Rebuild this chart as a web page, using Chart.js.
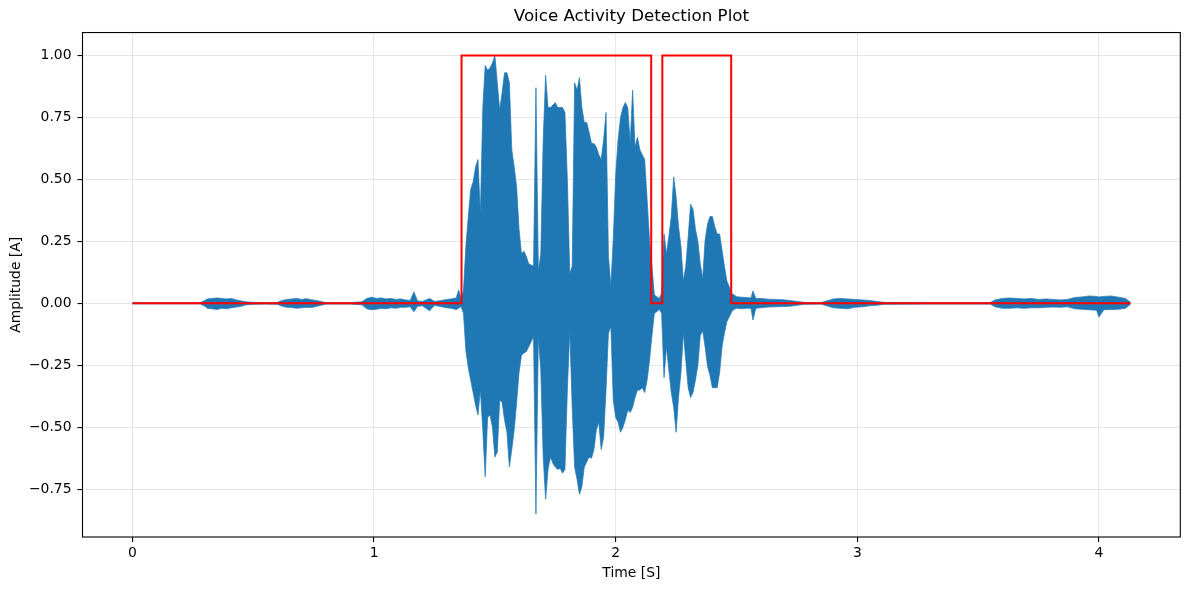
<!DOCTYPE html>
<html>
<head>
<meta charset="utf-8">
<script src="https://cdn.jsdelivr.net/npm/chart.js@4.4.1/dist/chart.umd.min.js"></script>
<style>
html,body{margin:0;padding:0;background:#fff;}
canvas{display:block;}
</style>
</head>
<body>
<canvas id="c" width="1189" height="590" style="width:1189px;height:590px"></canvas>
<script>
// ---- Waveform envelope, time in seconds, amplitude in A ----
const preTime = [0.00, 0.28, 0.30, 0.31, 0.33, 0.35, 0.37, 0.39, 0.41, 0.43,
                 0.45, 0.47, 0.50, 0.55, 0.60, 0.62, 0.64, 0.66, 0.68, 0.70,
                 0.72, 0.74, 0.76, 0.78, 0.80, 0.90, 0.95, 0.97, 0.99, 1.01,
                 1.03, 1.05, 1.07, 1.09, 1.11, 1.13, 1.15, 1.165, 1.18, 1.20,
                 1.23, 1.25, 1.28, 1.30, 1.32, 1.34, 1.35];
const preUpper = [0.002, 0.002, 0.012, 0.018, 0.02, 0.022, 0.02, 0.018, 0.02, 0.014,
                  0.01, 0.006, 0.004, 0.003, 0.004, 0.012, 0.016, 0.018, 0.02, 0.016,
                  0.019, 0.015, 0.012, 0.008, 0.003, 0.003, 0.006, 0.02, 0.025, 0.02,
                  0.022, 0.018, 0.02, 0.016, 0.018, 0.014, 0.012, 0.046, 0.01, 0.008,
                  0.02, 0.008, 0.012, 0.016, 0.018, 0.022, 0.054];
const preLower = [-0.002, -0.002, -0.012, -0.02, -0.022, -0.025, -0.02, -0.022, -0.018, -0.015,
                  -0.012, -0.006, -0.004, -0.003, -0.004, -0.012, -0.016, -0.017, -0.02, -0.018,
                  -0.016, -0.017, -0.013, -0.008, -0.003, -0.003, -0.006, -0.022, -0.026, -0.024,
                  -0.02, -0.022, -0.018, -0.02, -0.016, -0.016, -0.014, -0.034, -0.012, -0.01,
                  -0.03, -0.008, -0.014, -0.018, -0.02, -0.025, -0.02];

const speechTime = [1.36, 1.37, 1.38, 1.39, 1.40, 1.41, 1.42, 1.43, 1.44, 1.45,
                    1.46, 1.47, 1.48, 1.49, 1.50, 1.51, 1.52, 1.53, 1.54, 1.55,
                    1.56, 1.57, 1.58, 1.59, 1.60, 1.61, 1.62, 1.63, 1.64, 1.65,
                    1.66, 1.67, 1.68, 1.69, 1.70, 1.71, 1.72, 1.73, 1.74, 1.75,
                    1.76, 1.77, 1.78, 1.79, 1.80, 1.81, 1.82, 1.83, 1.84, 1.85,
                    1.86, 1.87, 1.88, 1.89, 1.90, 1.91, 1.92, 1.93, 1.94, 1.95,
                    1.96, 1.97, 1.98, 1.99, 2.00, 2.01, 2.02, 2.03, 2.04, 2.05,
                    2.06, 2.07, 2.08, 2.09, 2.10, 2.11, 2.12, 2.13, 2.14, 2.15,
                    2.16, 2.17, 2.18, 2.19, 2.20, 2.21, 2.22, 2.23, 2.24, 2.25,
                    2.26, 2.27, 2.28, 2.29, 2.30, 2.31, 2.32, 2.33, 2.34, 2.35,
                    2.36, 2.37, 2.38, 2.39, 2.40, 2.41, 2.42, 2.43, 2.44, 2.45,
                    2.46, 2.47, 2.48, 2.49, 2.50];
const speechUpper = [0.02, 0.05, 0.23, 0.35, 0.46, 0.49, 0.55, 0.58, 0.36, 0.79,
                     0.96, 0.94, 0.95, 0.97, 1.00, 0.89, 0.78, 0.85, 0.93, 0.93,
                     0.89, 0.62, 0.55, 0.47, 0.30, 0.20, 0.21, 0.19, 0.16, 0.155,
                     0.15, 0.87, 0.13, 0.20, 0.66, 0.92, 0.79, 0.79, 0.80, 0.81,
                     0.79, 0.79, 0.79, 0.77, 0.50, 0.12, 0.15, 0.89, 0.86, 0.91,
                     0.79, 0.73, 0.73, 0.69, 0.645, 0.645, 0.63, 0.60, 0.58, 0.66,
                     0.77, 0.19, 0.07, 0.26, 0.52, 0.66, 0.75, 0.79, 0.81, 0.79,
                     0.645, 0.86, 0.63, 0.67, 0.62, 0.60, 0.58, 0.42, 0.255, 0.15,
                     0.034, 0.027, 0.02, 0.04, 0.28, 0.20, 0.27, 0.35, 0.51, 0.43,
                     0.31, 0.23, 0.09, 0.15, 0.27, 0.40, 0.38, 0.30, 0.25, 0.16,
                     0.10, 0.255, 0.32, 0.35, 0.35, 0.31, 0.28, 0.28, 0.215, 0.15,
                     0.09, 0.067, 0.04, 0.034, 0.027];
const speechLower = [-0.013, -0.04, -0.19, -0.26, -0.31, -0.36, -0.41, -0.45, -0.35, -0.51,
                     -0.70, -0.46, -0.45, -0.50, -0.62, -0.60, -0.39, -0.40, -0.47, -0.52,
                     -0.66, -0.59, -0.51, -0.40, -0.28, -0.21, -0.20, -0.195, -0.175, -0.155,
                     -0.135, -0.85, -0.135, -0.27, -0.62, -0.79, -0.67, -0.62, -0.645, -0.66,
                     -0.67, -0.665, -0.685, -0.67, -0.35, -0.11, -0.42, -0.66, -0.71, -0.77,
                     -0.74, -0.66, -0.64, -0.62, -0.625, -0.59, -0.51, -0.48, -0.59, -0.54,
                     -0.35, -0.12, -0.094, -0.39, -0.46, -0.48, -0.52, -0.50, -0.47, -0.43,
                     -0.44, -0.42, -0.38, -0.35, -0.35, -0.34, -0.36, -0.31, -0.23, -0.13,
                     -0.04, -0.034, -0.024, -0.04, -0.30, -0.175, -0.27, -0.36, -0.42, -0.52,
                     -0.38, -0.28, -0.12, -0.23, -0.34, -0.38, -0.36, -0.31, -0.25, -0.13,
                     -0.11, -0.175, -0.255, -0.29, -0.34, -0.34, -0.34, -0.28, -0.175, -0.12,
                     -0.074, -0.054, -0.034, -0.024, -0.02];

const postTime = [2.52, 2.54, 2.56, 2.568, 2.58, 2.60, 2.63, 2.66, 2.69, 2.72,
                  2.75, 2.78, 2.85, 2.88, 2.90, 2.93, 2.96, 2.99, 3.02, 3.05,
                  3.08, 3.11, 3.30, 3.55, 3.57, 3.60, 3.63, 3.66, 3.69, 3.72,
                  3.75, 3.78, 3.81, 3.84, 3.87, 3.90, 3.93, 3.96, 3.99, 4.00,
                  4.02, 4.05, 4.08, 4.11, 4.13];
const postUpper = [0.025, 0.024, 0.022, 0.05, 0.02, 0.02, 0.017, 0.016, 0.015, 0.012,
                   0.008, 0.004, 0.003, 0.012, 0.018, 0.02, 0.018, 0.016, 0.014, 0.012,
                   0.008, 0.004, 0.003, 0.003, 0.014, 0.02, 0.022, 0.02, 0.018, 0.02,
                   0.016, 0.018, 0.016, 0.014, 0.016, 0.024, 0.026, 0.03, 0.028, 0.026,
                   0.028, 0.03, 0.025, 0.02, 0.004];
const postLower = [-0.022, -0.02, -0.02, -0.067, -0.02, -0.018, -0.015, -0.014, -0.013, -0.012,
                   -0.008, -0.004, -0.003, -0.012, -0.018, -0.02, -0.022, -0.016, -0.014, -0.01,
                   -0.008, -0.004, -0.003, -0.003, -0.014, -0.02, -0.02, -0.018, -0.02, -0.018,
                   -0.018, -0.016, -0.015, -0.016, -0.014, -0.022, -0.024, -0.026, -0.028, -0.055,
                   -0.026, -0.025, -0.024, -0.02, -0.004];

// ---- Voice activity detection (0/1) ----
const vadTime  = [0, 1.362, 1.362, 2.147, 2.147, 2.193, 2.193, 2.478, 2.478, 4.131];
const vadValue = [0, 0,     1,     1,     0,     0,     1,     1,     0,     0];

// ---- Ticks ----
const xTicks = [0, 1, 2, 3, 4];
const yTicks = [-0.75, -0.5, -0.25, 0, 0.25, 0.5, 0.75, 1.0];

// ---- Build point lists ----
const envTime  = preTime.concat(speechTime, postTime);
const envUpper = preUpper.concat(speechUpper, postUpper);
const envLower = preLower.concat(speechLower, postLower);
const nEnv = Math.min(envTime.length, envUpper.length, envLower.length);
const upperPts = [], lowerPts = [];
for (let i = 0; i < nEnv; i++) {
  upperPts.push({x: envTime[i], y: envUpper[i]});
  lowerPts.push({x: envTime[i], y: envLower[i]});
}
const vadPts = vadTime.map((t, i) => ({x: t, y: vadValue[i]}));

const FONT = "'DejaVu Sans', 'Liberation Sans', sans-serif";
const BLUE = '#1f77b4';
const GRID = 'rgba(176,176,176,0.3)';

const framePlugin = {
  id: 'frame',
  afterDatasetsDraw(chart) {
    const {ctx, chartArea: a} = chart;
    ctx.save();
    ctx.strokeStyle = '#000';
    ctx.lineWidth = 1.1;
    ctx.strokeRect(a.left, a.top, a.right - a.left, a.bottom - a.top);
    ctx.restore();
  }
};

const fmtY = v => Number(v).toFixed(2).replace('-', '\u2212');

new Chart(document.getElementById('c').getContext('2d'), {
  type: 'line',
  data: {
    datasets: [
      {label: 'VAD', data: vadPts, borderColor: '#ff0000', borderWidth: 2, pointRadius: 0, fill: false, tension: 0, order: 0},
      {label: 'upper', data: upperPts, borderColor: BLUE, borderWidth: 0.7, pointRadius: 0, fill: false, tension: 0, order: 1},
      {label: 'lower', data: lowerPts, borderColor: BLUE, borderWidth: 0.7, backgroundColor: BLUE, pointRadius: 0, fill: '-1', tension: 0, order: 1}
    ]
  },
  options: {
    responsive: false,
    animation: false,
    events: [],
    layout: {padding: {left: 0, right: 8.7, top: 0, bottom: 0}},
    plugins: {
      legend: {display: false},
      tooltip: {enabled: false},
      title: {
        display: true, fullSize: false,
        text: 'Voice Activity Detection Plot',
        color: '#000',
        font: {family: FONT, size: 16.7, weight: 'normal'},
        padding: {top: 7, bottom: 5.5}
      }
    },
    scales: {
      x: {
        type: 'linear', min: -0.2065, max: 4.3365,
        afterBuildTicks(s) { s.ticks = xTicks.map(v => ({value: v})); },
        afterFit(s) { s.height = 53; },
        ticks: {color: '#000', font: {family: FONT, size: 13.9}, padding: 3, maxRotation: 0, autoSkip: false, callback: v => String(v)},
        grid: {color: GRID, lineWidth: 1.1, tickColor: '#000', tickLength: 5, drawTicks: true},
        border: {display: false},
        title: {display: true, text: 'Time [S]', color: '#000', font: {family: FONT, size: 13.9}, padding: {top: 0, bottom: 8.7}}
      },
      y: {
        type: 'linear', min: -0.9425, max: 1.0925,
        afterBuildTicks(s) { s.ticks = yTicks.map(v => ({value: v})); },
        afterFit(s) { s.width = 82.5; },
        ticks: {color: '#000', font: {family: FONT, size: 13.9}, padding: 6, autoSkip: false, callback: v => fmtY(v)},
        grid: {color: GRID, lineWidth: 1.1, tickColor: '#000', tickLength: 5, drawTicks: true},
        border: {display: false},
        title: {display: true, text: 'Amplitude [A]', color: '#000', font: {family: FONT, size: 13.9}, padding: {top: 7.7, bottom: 0}}
      }
    }
  },
  plugins: [framePlugin]
});
</script>
</body>
</html>
